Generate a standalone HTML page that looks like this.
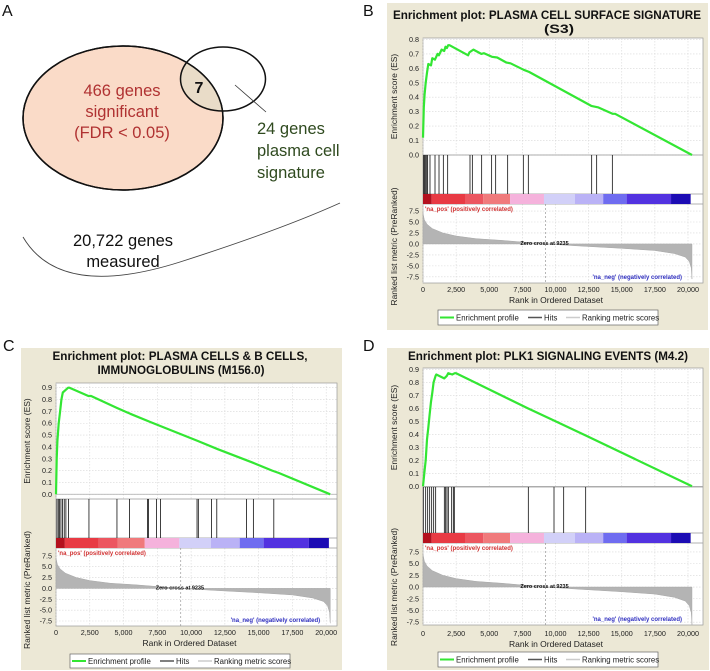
<!DOCTYPE html>
<html><head><meta charset="utf-8">
<style>
html,body{margin:0;padding:0;background:#fff;}
svg{display:block;font-family:"Liberation Sans",Arial,sans-serif;}
</style></head>
<body>
<svg id="fig" width="710" height="671" viewBox="0 0 710 671" xmlns="http://www.w3.org/2000/svg">
  <defs>
    <clipPath id="smallClip"><ellipse cx="223" cy="79" rx="42.5" ry="32"/></clipPath>
  </defs>
  <g>
    <text x="2" y="16" font-size="16" fill="#111">A</text>
    <ellipse cx="123" cy="118" rx="100" ry="72" fill="#fadbc8" stroke="#111" stroke-width="1.5"/>
    <ellipse cx="123" cy="118" rx="100" ry="72" fill="#e9dcc8" clip-path="url(#smallClip)"/>
    <ellipse cx="223" cy="79" rx="42.5" ry="32" fill="none" stroke="#111" stroke-width="1.5"/>
    <ellipse cx="123" cy="118" rx="100" ry="72" fill="none" stroke="#111" stroke-width="1.5"/>
    <text x="199" y="93" font-size="16" font-weight="bold" text-anchor="middle" fill="#111">7</text>
    <line x1="235" y1="85" x2="266" y2="112" stroke="#333" stroke-width="0.8"/>
    <g font-size="16.5" fill="#b03232" text-anchor="middle">
      <text x="122" y="96">466 genes</text>
      <text x="122" y="117">significant</text>
      <text x="122" y="138">(FDR &lt; 0.05)</text>
    </g>
    <g font-size="16.5" fill="#2f4a1f">
      <text x="257" y="134">24 genes</text>
      <text x="257" y="156">plasma cell</text>
      <text x="257" y="178">signature</text>
    </g>
    <path d="M23,237 Q60,300 180,262 Q280,230 340,203" fill="none" stroke="#444" stroke-width="0.9"/>
    <g font-size="16.5" fill="#111" text-anchor="middle">
      <text x="123" y="246">20,722 genes</text>
      <text x="123" y="267">measured</text>
    </g>
  </g>
  <text x="363" y="16" font-size="16" fill="#111">B</text>
  <text x="3" y="351" font-size="16" fill="#111">C</text>
  <text x="363" y="351" font-size="16" fill="#111">D</text>
</svg>
<script>
// ---- data ----
const xTickValues = [0,2500,5000,7500,10000,12500,15000,17500,20000];
const xTickLabels = ["0","2,500","5,000","7,500","10,000","12,500","15,000","17,500","20,000"];
const metricTickValues = [7.5,5.0,2.5,0.0,-2.5,-5.0,-7.5];
const metricTickLabels = ["7.5","5.0","2.5","0.0","-2.5","-5.0","-7.5"];
const zeroCross = 9235;
const metricRanks = [0,100,300,700,1500,2500,4000,6000,9235,12000,15000,17500,19000,19800,20100,20250,20300];
const metricValues = [7,5.5,4.5,3.5,2.5,1.8,1.2,0.8,0,-0.5,-1.0,-1.5,-2.2,-3,-4,-5.5,-8];
const colorBarBreaks = [0,656,3170,4550,6570,9130,11470,13600,15370,18720,20200];
const colorBarColors = ["#b4101e","#e83a44","#ec5660","#f07a7c","#f5b2dc","#d2d0f8","#bab2f6","#6f6cf0","#5232e0","#1c0cb4"];

const esRanksB = [0,60,120,200,300,400,600,700,900,1100,1200,1400,1600,1700,1800,1900,2000,3400,3500,3800,4400,4600,5200,5600,6300,6600,7600,8000,12700,13200,14300,14500,20300];
const esValuesB = [0.12,0.33,0.42,0.5,0.57,0.63,0.62,0.67,0.66,0.70,0.69,0.73,0.72,0.75,0.74,0.76,0.76,0.69,0.71,0.73,0.70,0.705,0.68,0.675,0.64,0.635,0.59,0.575,0.34,0.33,0.285,0.285,0.0];
const hitsB = [50,120,200,280,350,528,906,1208,1535,1862,3547,3724,4427,5180,5484,6390,7572,7949,12730,13107,14290];

const esRanksC = [0,50,100,200,300,400,500,700,900,1000,2400,2600,4500,5500,7000,10500,12000,14500,16000,16500,20300];
const esValuesC = [0,0.3,0.45,0.6,0.7,0.8,0.86,0.88,0.9,0.9,0.83,0.83,0.73,0.68,0.61,0.45,0.38,0.27,0.2,0.18,0.0];
const hitsC = [73,171,268,366,488,610,732,927,2439,4512,5439,6780,6853,7439,7732,10439,10536,11512,11902,14098,14610,16122];

const esRanksD = [0,100,200,300,400,500,600,700,800,950,1000,1600,1800,1900,2200,2400,2500,7900,10000,12300,20300];
const esValuesD = [0,0.1,0.2,0.36,0.45,0.55,0.65,0.72,0.8,0.85,0.86,0.83,0.85,0.87,0.86,0.87,0.87,0.6,0.5,0.39,0.0];
const hitsD = [25,201,352,503,654,805,956,1610,1710,1811,1912,2163,2289,2364,7949,9887,10617,12277];

const esTicksB = [0,0.1,0.2,0.3,0.4,0.5,0.6,0.7,0.8];
const esTicksCD = [0,0.1,0.2,0.3,0.4,0.5,0.6,0.7,0.8,0.9];

// ---- drawing ----
const NS = "http://www.w3.org/2000/svg";
const svg = document.getElementById("fig");
function mk(tag, attrs, parent){
  const e = document.createElementNS(NS, tag);
  for (const k in attrs) e.setAttribute(k, attrs[k]);
  (parent||svg).appendChild(e);
  return e;
}

function drawPanel(cfg, esRanks, esValues, hits, esTicks){
  const g = mk("g", {});
  
  
  const bg = mk("rect", {x:cfg.bg[0], y:cfg.bg[1], width:cfg.bg[2], height:cfg.bg[3], fill:"#ece8d6"}, g);
  
  
  cfg.titleLines.forEach((t,i)=>{
    const tt = mk("text", {x:cfg.titleX[i], y:cfg.titleY[i], "font-size":"12", "font-weight":"bold", "text-anchor":"middle", fill:"#111", textLength:cfg.titleW[i], lengthAdjust:"spacingAndGlyphs"}, g);
    tt.textContent = t;
    
    
  });
  const L = cfg.left, R = cfg.right;
  const xs = v => L + v / cfg.xMax * (R - L);
  const esY = v => cfg.esBot - (v - cfg.esMin) / (cfg.esMax - cfg.esMin) * (cfg.esBot - cfg.esTop);
  const mY = v => cfg.metBot - (v - cfg.mMin) / (cfg.mMax - cfg.mMin) * (cfg.metBot - cfg.cbBot);

  const pb = mk("rect", {x:L, y:cfg.esTop, width:R-L, height:cfg.metBot-cfg.esTop, fill:"#fff", stroke:"#999", "stroke-width":"0.7"}, g);
  
  

  xTickValues.forEach(v=>{
    const gl = mk("line", {x1:xs(v), x2:xs(v), y1:cfg.esTop, y2:cfg.esBot, stroke:"#d8d8d8", "stroke-width":"0.6", "stroke-dasharray":"1.5,1.5"}, g);
    
    
    const gl2 = mk("line", {x1:xs(v), x2:xs(v), y1:cfg.cbBot, y2:cfg.metBot, stroke:"#d8d8d8", "stroke-width":"0.6", "stroke-dasharray":"1.5,1.5"}, g);
    
    
  });
  esTicks.forEach(v=>{
    const gl = mk("line", {x1:L, x2:R, y1:esY(v), y2:esY(v), stroke:"#d8d8d8", "stroke-width":"0.6", "stroke-dasharray":"1.5,1.5"}, g);
    
    
    const tl = mk("text", {x:L-4, y:esY(v)+2.5, "font-size":"7.2", "text-anchor":"end", fill:"#222"}, g);
    tl.textContent = v.toFixed(1);
    
    
  });
  metricTickValues.forEach((v,i)=>{
    const gl = mk("line", {x1:L, x2:R, y1:mY(v), y2:mY(v), stroke:"#d8d8d8", "stroke-width":"0.6", "stroke-dasharray":"1.5,1.5"}, g);
    
    
    const tl = mk("text", {x:L-4, y:mY(v)+2.5, "font-size":"7.2", "text-anchor":"end", fill:"#222"}, g);
    tl.textContent = metricTickLabels[i];
    
    
  });
  [cfg.esBot, cfg.hitsBot, cfg.cbBot].forEach(y=>{
    const d = mk("line", {x1:L, x2:R, y1:y, y2:y, stroke:"#999", "stroke-width":"0.7"}, g);
    
    
  });
  const zl = mk("line", {x1:L, x2:R, y1:esY(0), y2:esY(0), stroke:"#aaa", "stroke-width":"0.8"}, g);
  
  

  colorBarColors.forEach((c,i)=>{
    const r = mk("rect", {x:xs(colorBarBreaks[i]), y:cfg.hitsBot, width:xs(colorBarBreaks[i+1])-xs(colorBarBreaks[i]), height:cfg.cbBot-cfg.hitsBot, fill:c}, g);
    
    
  });

  hits.forEach(h=>{
    const l = mk("line", {x1:xs(h), x2:xs(h), y1:cfg.esBot, y2:cfg.hitsBot, stroke:"#111", "stroke-width":"0.8"}, g);
    
    
  });

  let d = "M" + xs(metricRanks[0]) + "," + mY(0);
  metricRanks.forEach((r,i)=>{ d += " L" + xs(r) + "," + mY(metricValues[i]); });
  d += " L" + xs(metricRanks[metricRanks.length-1]) + "," + mY(0) + " Z";
  const area = mk("path", {d:d, fill:"#b4b4b4", stroke:"#a8a8a8", "stroke-width":"0.5"}, g);
  
  

  const zc = mk("line", {x1:xs(zeroCross), x2:xs(zeroCross), y1:cfg.cbBot, y2:cfg.metBot, stroke:"#888", "stroke-width":"0.6", "stroke-dasharray":"2,2"}, g);
  
  
  const zt = mk("text", {x:xs(zeroCross)-25, y:mY(0)+1, "font-size":"5.5", fill:"#111", "font-weight":"bold"}, g);
  zt.textContent = "Zero cross at 9235";
  
  
  const pt = mk("text", {x:L+2, y:cfg.cbBot+7, "font-size":"6", fill:"#d03030", "font-weight":"bold"}, g);
  pt.textContent = "'na_pos' (positively correlated)";
  
  
  const nt = mk("text", {x:xs(20000)-6, y:cfg.metBot-4, "font-size":"6", fill:"#3030c0", "font-weight":"bold", "text-anchor":"end"}, g);
  nt.textContent = "'na_neg' (negatively correlated)";
  
  

  const pts = esRanks.map((r,i)=> xs(r).toFixed(1) + "," + esY(esValues[i]).toFixed(1)).join(" ");
  const line = mk("polyline", {points:pts, fill:"none", stroke:"#33e633", "stroke-width":"2.2", "stroke-linejoin":"round"}, g);
  
  

  xTickValues.forEach((v,i)=>{
    const t = mk("text", {x:xs(v), y:cfg.tickY, "font-size":"7.2", "text-anchor":"middle", fill:"#222"}, g);
    t.textContent = xTickLabels[i];
    
    
  });
  const xt = mk("text", {x:(L+R)/2 - 7, y:cfg.xTitleY, "font-size":"8.5", "text-anchor":"middle", fill:"#222"}, g);
  xt.textContent = "Rank in Ordered Dataset";
  
  
  const ex = L - 26, ey = (cfg.esTop + cfg.esBot)/2;
  const yt = mk("text", {x:ex, y:ey, "font-size":"8.5", "text-anchor":"middle", fill:"#222", transform:"rotate(-90 "+ex+" "+ey+")"}, g);
  yt.textContent = "Enrichment score (ES)";
  
  
  const my = (cfg.hitsBot + cfg.metBot)/2 + 8;
  const yt2 = mk("text", {x:ex, y:my, "font-size":"8.5", "text-anchor":"middle", fill:"#222", transform:"rotate(-90 "+ex+" "+my+")"}, g);
  yt2.textContent = "Ranked list metric (PreRanked)";
  
  

  const lg = cfg.legend;
  const lb = mk("rect", {x:lg[0], y:lg[1], width:lg[2], height:lg[3], fill:"#fff", stroke:"#666", "stroke-width":"0.7"}, g);
  
  
  const cy = lg[1] + lg[3]/2;
  const items = [["Enrichment profile","#33e633",2,2,60],["Hits","#555",1.5,90,20],["Ranking metric scores","#ccc",1.5,128,80]];
  items.forEach(it=>{
    const sl = mk("line", {x1:lg[0]+it[3], x2:lg[0]+it[3]+14, y1:cy, y2:cy, stroke:it[1], "stroke-width":it[2]}, g);
    
    
    const lt = mk("text", {x:lg[0]+it[3]+16, y:cy+2.8, "font-size":"7.8", fill:"#222"}, g);
    lt.textContent = it[0];
    
    
  });
}

drawPanel({name:"panel-b-enrichment-plot", bg:[387,3,321,327], titleLines:["Enrichment plot: PLASMA CELL SURFACE SIGNATURE","(S3)"], titleY:[19,33], titleX:[547,559], titleW:[308,30],
  left:423, right:703, xMax:21132, esTop:38, esBot:155, hitsBot:194, cbBot:204, metBot:283, esMin:0, esMax:0.81, mMin:-8.9, mMax:9.1,
  tickY:292, xTitleY:303, legend:[438,310,220,15]}, esRanksB, esValuesB, hitsB, esTicksB);
drawPanel({name:"panel-c-enrichment-plot", bg:[21,348,321,322], titleLines:["Enrichment plot: PLASMA CELLS & B CELLS,","IMMUNOGLOBULINS (M156.0)"], titleY:[360,374], titleX:[180,181], titleW:[255,167],
  left:56, right:337, xMax:20800, esTop:383, esBot:499, hitsBot:538, cbBot:548, metBot:626, esMin:-0.04, esMax:0.94, mMin:-8.65, mMax:9.3,
  tickY:635, xTitleY:646, legend:[70,654,220,14]}, esRanksC, esValuesC, hitsC, esTicksCD);
drawPanel({name:"panel-d-enrichment-plot", bg:[387,348,322,322], titleLines:["Enrichment plot: PLK1 SIGNALING EVENTS (M4.2)"], titleY:[360], titleX:[548], titleW:[280],
  left:423, right:703, xMax:21132, esTop:368, esBot:487, hitsBot:533, cbBot:543, metBot:625, esMin:-0.005, esMax:0.91, mMin:-8.1, mMax:9.4,
  tickY:636, xTitleY:647, legend:[438,652,220,15]}, esRanksD, esValuesD, hitsD, esTicksCD);
</script>
</body></html>
